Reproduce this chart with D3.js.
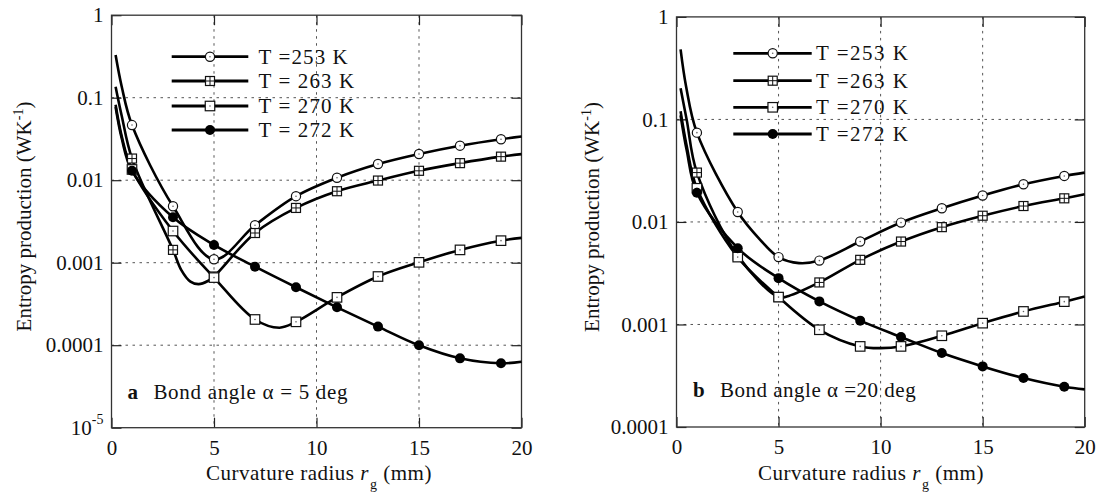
<!DOCTYPE html>
<html><head><meta charset="utf-8">
<script src="https://cdn.jsdelivr.net/npm/d3@7"></script>
<style>
body{margin:0;background:#fff}
svg{display:block}
text{font-family:"Liberation Serif","Times New Roman",serif;fill:#111}
</style>
</head><body>
<svg id="c" width="1098" height="495"></svg>
<script>
// ---------- data ----------
const markerX = [1,3,5,7,9,11,13,15,17,19];
const xTicks = [0,5,10,15,20];
const gridX = [5,10,15];
const yTicksA = [1,0.1,0.01,0.001,0.0001,0.00001];
const yLabelsA = ["1","0.1","0.01","0.001","0.0001","10^-5"];
const yTicksB = [1,0.1,0.01,0.001,0.0001];
const yLabelsB = ["1","0.1","0.01","0.001","0.0001"];
const namesA = ["T =253 K","T = 263 K","T = 270 K","T = 272 K"];
const namesB = ["T =253 K","T =263 K","T =270 K","T =272 K"];
const markerTypes = ["circle","squareCross","square","dot"];

// panel a : bond angle 5 deg  [curvature radius (mm), entropy production (W/K)]
const a253 = [[0.2,0.33],[0.5,0.136],[1,0.0466],[3,0.00483],[5,0.0011],[7,0.00284],[9,0.0064],[11,0.0107],[13,0.0157],[15,0.0208],[17,0.0262],[19,0.0314],[20,0.0338]];
const a263 = [[0.2,0.136],[0.5,0.06],[1,0.0183],[3,0.00143],[3.4,0.00082],[3.85,0.00059],[4.25,0.00055],[4.7,0.0006],[5,0.00068],[7,0.00229],[9,0.00461],[11,0.00735],[13,0.0099],[15,0.013],[17,0.0161],[19,0.0193],[20,0.0207]];
const a270 = [[0.2,0.082],[0.5,0.034],[1,0.0135],[3,0.00242],[5,0.00066],[7,0.000205],[8.2,0.000163],[9,0.000192],[11,0.00038],[13,0.00068],[15,0.00101],[17,0.00143],[19,0.00185],[20,0.002]];
const a272 = [[0.2,0.077],[0.5,0.032],[1,0.013],[3,0.00355],[5,0.00164],[7,0.000895],[9,0.000504],[11,0.000288],[13,0.000168],[15,0.0000997],[17,0.0000693],[19,0.0000603],[20,0.000063]];

// panel b : bond angle 20 deg
const b253 = [[0.2,0.483],[0.47,0.21],[1,0.0743],[3,0.0125],[4.1,0.0067],[5,0.00454],[6,0.00397],[7,0.0042],[9,0.00644],[11,0.00986],[13,0.0136],[15,0.0181],[17,0.0233],[19,0.0281],[20,0.0303]];
const b263 = [[0.2,0.201],[0.5,0.099],[1,0.0303],[3,0.0047],[5,0.00185],[5.5,0.0019],[7,0.00257],[9,0.00427],[11,0.00644],[13,0.0089],[15,0.0115],[17,0.0143],[19,0.017],[20,0.0186]];
const b270 = [[0.2,0.12],[0.5,0.055],[1,0.0213],[3,0.00454],[5,0.00185],[7,0.000888],[9,0.000611],[10,0.000588],[11,0.000611],[13,0.000776],[15,0.00103],[17,0.00134],[19,0.00167],[20,0.00187]];
const b272 = [[0.2,0.11],[0.5,0.05],[1,0.0193],[3,0.00555],[5,0.00283],[7,0.00168],[9,0.00109],[11,0.000754],[13,0.000526],[15,0.00039],[17,0.0003],[19,0.000247],[20,0.000233]];

// ---------- layout ----------
const panels = [
  {xr:[111.5,521.5], yr:[427.7,15.2], yDom:[1e-5,1], yTicks:yTicksA, yLabels:yLabelsA,
   series:[a253,a263,a270,a272], names:namesA,
   legend:{x0:171.7,x1:248.3,xm:210,tx:258.6,rows:[56.7,81,106,130],ls:1.1},
   note:{lx:127.6,tx:153.4,y:399,letter:"a",text:"Bond angle α = 5 deg",ls:0.7},
   xlab:206, ylab:[31,216.5]},
  {xr:[676.5,1084.7], yr:[427,16.9], yDom:[1e-4,1], yTicks:yTicksB, yLabels:yLabelsB,
   series:[b253,b263,b270,b272], names:namesB,
   legend:{x0:733.3,x1:811.7,xm:772.7,tx:816,rows:[53.3,80.7,107.3,134],ls:1.5},
   note:{lx:693,tx:720,y:397,letter:"b",text:"Bond angle α =20 deg",ls:0.5},
   xlab:758, ylab:[599,217]}
];

const svg = d3.select("#c");
const FS = 21;

function drawMarker(g, type, cx, cy){
  if(type==="circle"){
    g.append("circle").attr("cx",cx).attr("cy",cy).attr("r",4.6).attr("fill","#fff").attr("stroke","#111").attr("stroke-width",1.2);
    g.append("circle").attr("cx",cx).attr("cy",cy).attr("r",0.8).attr("fill","#666");
  } else if(type==="squareCross"){
    const s=9;
    g.append("rect").attr("x",cx-s/2).attr("y",cy-s/2).attr("width",s).attr("height",s).attr("fill","#fff").attr("stroke","#111").attr("stroke-width",1.2);
    g.append("line").attr("x1",cx).attr("x2",cx).attr("y1",cy-s/2).attr("y2",cy+s/2).attr("stroke","#111").attr("stroke-width",1);
    g.append("line").attr("x1",cx-s/2).attr("x2",cx+s/2).attr("y1",cy).attr("y2",cy).attr("stroke","#111").attr("stroke-width",1);
  } else if(type==="square"){
    const s=9.5;
    g.append("rect").attr("x",cx-s/2).attr("y",cy-s/2).attr("width",s).attr("height",s).attr("fill","#fff").attr("stroke","#111").attr("stroke-width",1.2);
    g.append("circle").attr("cx",cx).attr("cy",cy).attr("r",0.8).attr("fill","#666");
  } else {
    g.append("circle").attr("cx",cx).attr("cy",cy).attr("r",5).attr("fill","#000");
  }
}

panels.forEach(p=>{
  const x = d3.scaleLinear().domain([0,20]).range(p.xr);
  const y = d3.scaleLog().domain(p.yDom).range(p.yr);
  const g = svg.append("g");
  const [L,R] = p.xr, [B,T] = p.yr;

  // grid
  const grid = g.append("g").attr("stroke","#555").attr("stroke-width",1).attr("stroke-dasharray","2.5,4.5");
  gridX.forEach(v=>grid.append("line").attr("x1",x(v)).attr("x2",x(v)).attr("y1",T).attr("y2",B));
  p.yTicks.filter(v=>v<1 && v>p.yDom[0]).forEach(v=>grid.append("line").attr("x1",L).attr("x2",R).attr("y1",y(v)).attr("y2",y(v)));

  // axes (inward ticks)
  const ax = g.append("g").attr("font-family",null).attr("font-size",null);
  const la = ax.append("g").attr("transform",`translate(${L},0)`)
    .call(d3.axisLeft(y).tickValues(p.yTicks).tickSizeInner(-10).tickSizeOuter(0).tickPadding(8).tickFormat((d,i)=>p.yLabels[i]));
  la.selectAll("text").each(function(d,i){
    const lab = p.yLabels[i];
    if(lab.includes("^")){
      const [b,e] = lab.split("^");
      const t = d3.select(this).text(null);
      t.append("tspan").text(b);
      t.append("tspan").attr("font-size",14).attr("dy","-0.75em").text(e);
    }
  });
  ax.append("g").attr("transform",`translate(${R},0)`)
    .call(d3.axisRight(y).tickValues(p.yTicks).tickSizeInner(-10).tickSizeOuter(0).tickFormat(""));
  ax.append("g").attr("transform",`translate(0,${B})`)
    .call(d3.axisBottom(x).tickValues(xTicks).tickSizeInner(-10).tickSizeOuter(0).tickPadding(12).tickFormat(d3.format("d")));
  ax.append("g").attr("transform",`translate(0,${T})`)
    .call(d3.axisTop(x).tickValues(xTicks).tickSizeInner(-10).tickSizeOuter(0).tickFormat(""));
  ax.selectAll(".domain").remove();
  ax.selectAll(".tick line").attr("stroke","#222").attr("stroke-width",1.2);
  ax.selectAll("text").attr("font-size",FS).attr("fill","#111").attr("font-family",'"Liberation Serif",serif');

  // frame
  g.append("rect").attr("x",L).attr("y",T).attr("width",R-L).attr("height",B-T)
    .attr("fill","none").attr("stroke","#333").attr("stroke-width",1.3);

  // lines
  const line = d3.line().x(d=>x(d[0])).y(d=>y(d[1])).curve(d3.curveCatmullRom.alpha(0.5));
  p.series.forEach(s=>{
    g.append("path").datum(s).attr("d",line).attr("fill","none").attr("stroke","#000").attr("stroke-width",2.6);
  });
  p.series.forEach((s,k)=>{
    s.filter(d=>markerX.includes(d[0])).forEach(d=>drawMarker(g, markerTypes[k], x(d[0]), y(d[1])));
  });

  // legend
  p.names.forEach((n,k)=>{
    const yy = p.legend.rows[k];
    g.append("line").attr("x1",p.legend.x0).attr("x2",p.legend.x1).attr("y1",yy).attr("y2",yy).attr("stroke","#000").attr("stroke-width",2.8);
    drawMarker(g, markerTypes[k], p.legend.xm, yy);
    g.append("text").attr("x",p.legend.tx).attr("y",yy+7).attr("font-size",FS).attr("letter-spacing",p.legend.ls).text(n);
  });

  // annotation
  g.append("text").attr("x",p.note.lx).attr("y",p.note.y).attr("font-size",FS).attr("font-weight","bold").text(p.note.letter);
  g.append("text").attr("x",p.note.tx).attr("y",p.note.y).attr("font-size",FS).attr("letter-spacing",p.note.ls).text(p.note.text);

  // x label
  const xl = g.append("text").attr("x",p.xlab).attr("y",480).attr("font-size",FS).attr("letter-spacing",0.5);
  xl.append("tspan").text("Curvature radius ");
  xl.append("tspan").attr("font-style","italic").text("r");
  xl.append("tspan").attr("font-size",14).attr("dy",9).attr("dx",1).text("g");
  xl.append("tspan").attr("dy",-9).text(" (mm)");

  // y label
  const yl = g.append("text").attr("transform",`translate(${p.ylab[0]},${p.ylab[1]}) rotate(-90)`)
    .attr("text-anchor","middle").attr("font-size",FS);
  yl.append("tspan").text("Entropy production (WK");
  yl.append("tspan").attr("font-size",14).attr("dy",-8).text("-1");
  yl.append("tspan").attr("dy",8).text(")");
});
</script>
</body></html>
